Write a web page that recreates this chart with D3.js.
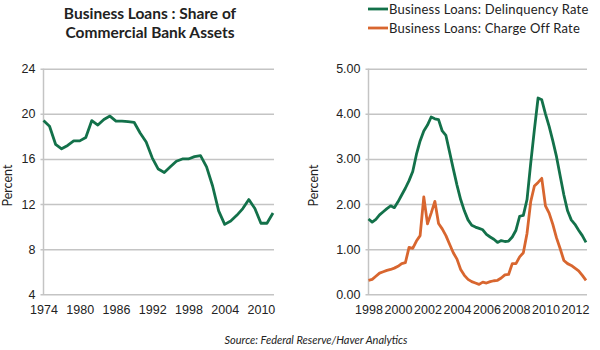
<!DOCTYPE html>
<html>
<head>
<meta charset="utf-8">
<script src="https://cdn.jsdelivr.net/npm/d3@7"></script>
<style>
  body { margin: 0; background: #fff; }
  svg { font-family: Lato, "Open Sans", sans-serif; }
  .tick text { fill: #222; font-size: 12.5px; }
  .grid line { stroke: #c4c4c4; stroke-width: 1.5; }
  .grid .domain { display: none; }
  .axisText { fill: #222; font-size: 12.5px; }
  .legendText { fill: #222; font-size: 13px; }
</style>
</head>
<body>
<div class="chart"></div>
<script>
var svgWidth = 600;
var svgHeight = 350;

// Share of commercial bank assets, annual
var shareYears = d3.range(1974, 2013);
var shareValues = [19.4, 18.9, 17.3, 16.9, 17.2, 17.6, 17.6, 17.9, 19.4, 19.0,
  19.5, 19.8, 19.35, 19.35, 19.3, 19.25, 18.3, 17.5, 16.1, 15.1,
  14.8, 15.3, 15.8, 16.0, 16.0, 16.2, 16.3, 15.3, 13.6, 11.4,
  10.2, 10.5, 11.0, 11.6, 12.4, 11.6, 10.3, 10.3, 11.2];
var shareTicks = [4, 8, 12, 16, 20, 24];
var shareYearTicks = [1974, 1980, 1986, 1992, 1998, 2004, 2010];

// Quarterly rates 1998Q1 - 2012Q4
var quarters = d3.range(60).map(function(i) { return 1998 + i / 4; });
var delinquency = [1.67, 1.60, 1.66, 1.76, 1.83, 1.90, 1.96, 1.92,
  2.05, 2.20, 2.35, 2.52, 2.72, 3.10, 3.40, 3.62,
  3.75, 3.93, 3.89, 3.87, 3.62, 3.52, 3.15, 2.78,
  2.42, 2.10, 1.85, 1.65, 1.53, 1.49, 1.46, 1.43,
  1.33, 1.27, 1.22, 1.15, 1.19, 1.17, 1.18, 1.27,
  1.42, 1.73, 1.75, 2.10, 2.90, 3.65, 4.35, 4.31,
  4.00, 3.72, 3.40, 3.05, 2.62, 2.20, 1.85, 1.65,
  1.55, 1.42, 1.30, 1.15];
var chargeOff = [0.31, 0.33, 0.40, 0.47, 0.50, 0.53, 0.55, 0.58,
  0.62, 0.68, 0.70, 1.04, 1.02, 1.18, 1.30, 2.16,
  1.56, 1.80, 2.06, 1.57, 1.45, 1.30, 1.11, 0.92,
  0.78, 0.55, 0.42, 0.33, 0.28, 0.25, 0.22, 0.27,
  0.25, 0.28, 0.30, 0.31, 0.36, 0.43, 0.44, 0.68,
  0.68, 0.83, 0.92, 1.35, 2.05, 2.40, 2.48, 2.57,
  1.96, 1.80, 1.55, 1.25, 1.01, 0.75, 0.68, 0.64,
  0.58, 0.52, 0.42, 0.31];
var rateTicks = [0, 1, 2, 3, 4, 5];
var rateYearTicks = [1998, 2000, 2002, 2004, 2006, 2008, 2010, 2012];

var seriesNames = ["Business Loans: Delinquency Rate", "Business Loans: Charge Off Rate"];
var green = "#13714a";
var orange = "#d8662f";

var svg = d3.select(".chart")
  .append("svg")
  .attr("width", svgWidth)
  .attr("height", svgHeight);

var plotTop = 68.7, plotBottom = 294.3;

// draws gridlines, axis line and ticks for one panel
function drawFrame(x, y, yTicks, yFmt, xTicks, titleX) {
  var x0 = x.range()[0];
  var x1 = d3.max(x.range()) + 1;
  var g = svg.append("g");

  g.append("g")
    .attr("class", "grid")
    .attr("transform", "translate(" + x0 + ",0)")
    .call(d3.axisLeft(y).tickValues(yTicks).tickFormat(yFmt)
      .tickSize(-(x1 - x0)).tickPadding(8))
    .selectAll(".tick line").attr("x1", -3).attr("x2", x1 - x0);

  g.append("line")
    .attr("x1", x0).attr("x2", x0)
    .attr("y1", plotTop).attr("y2", plotBottom)
    .attr("stroke", "#c4c4c4").attr("stroke-width", 1.5);

  g.append("g")
    .attr("transform", "translate(0," + plotBottom + ")")
    .call(d3.axisBottom(x).tickValues(xTicks).tickFormat(d3.format("d"))
      .tickSize(0).tickPadding(11))
    .call(function(a) { a.select(".domain").remove(); });

  g.append("text")
    .attr("class", "axisText")
    .attr("transform", "translate(" + titleX + "," + ((plotTop + plotBottom) / 2 + 4) + ") rotate(-90)")
    .attr("text-anchor", "middle")
    .text("Percent");
}

function drawLine(x, y, xs, ys, color) {
  var line = d3.line()
    .x(function(d, i) { return x(xs[i]); })
    .y(function(d) { return y(d); });
  svg.append("path")
    .datum(ys)
    .attr("d", line)
    .attr("fill", "none")
    .attr("stroke", color)
    .attr("stroke-width", 2.8)
    .attr("stroke-linejoin", "round");
}

// left panel
var xShare = d3.scaleLinear().domain([1974, 2012]).range([43.5, 273]);
var yShare = d3.scaleLinear().domain([4, 24]).range([plotBottom, plotTop]);
drawFrame(xShare, yShare, shareTicks, d3.format("d"), shareYearTicks, 12);
drawLine(xShare, yShare, shareYears, shareValues, green);

svg.append("text")
  .attr("x", 150).attr("y", 19)
  .attr("text-anchor", "middle")
  .attr("font-weight", "bold").attr("font-size", "15.5px").attr("fill", "#222")
  .text("Business Loans : Share of");
svg.append("text")
  .attr("x", 150).attr("y", 38)
  .attr("text-anchor", "middle")
  .attr("font-weight", "bold").attr("font-size", "15.5px").attr("fill", "#222")
  .text("Commercial Bank Assets");

// right panel
var xRate = d3.scaleLinear().domain([1998, 2012.75]).range([368.5, 586]);
var yRate = d3.scaleLinear().domain([0, 5]).range([plotBottom, plotTop]);
drawFrame(xRate, yRate, rateTicks, d3.format(".2f"), rateYearTicks, 318);
drawLine(xRate, yRate, quarters, delinquency, green);
drawLine(xRate, yRate, quarters, chargeOff, orange);

// legend
var legend = svg.selectAll(".legend")
  .data(seriesNames)
  .enter()
  .append("g")
  .attr("transform", function(d, i) { return "translate(368," + (9 + i * 19) + ")"; });
legend.append("line")
  .attr("x1", 0).attr("x2", 20)
  .attr("stroke", function(d, i) { return i === 0 ? green : orange; })
  .attr("stroke-width", 2.8);
legend.append("text")
  .attr("x", 21).attr("dy", "0.35em")
  .attr("class", "legendText")
  .style("letter-spacing", "0.2px")
  .text(function(d) { return d; });

svg.append("text")
  .attr("x", 316).attr("y", 344)
  .attr("text-anchor", "middle")
  .attr("font-style", "italic").attr("font-size", "11px").attr("fill", "#222")
  .text("Source: Federal Reserve/Haver Analytics");
</script>
</body>
</html>
